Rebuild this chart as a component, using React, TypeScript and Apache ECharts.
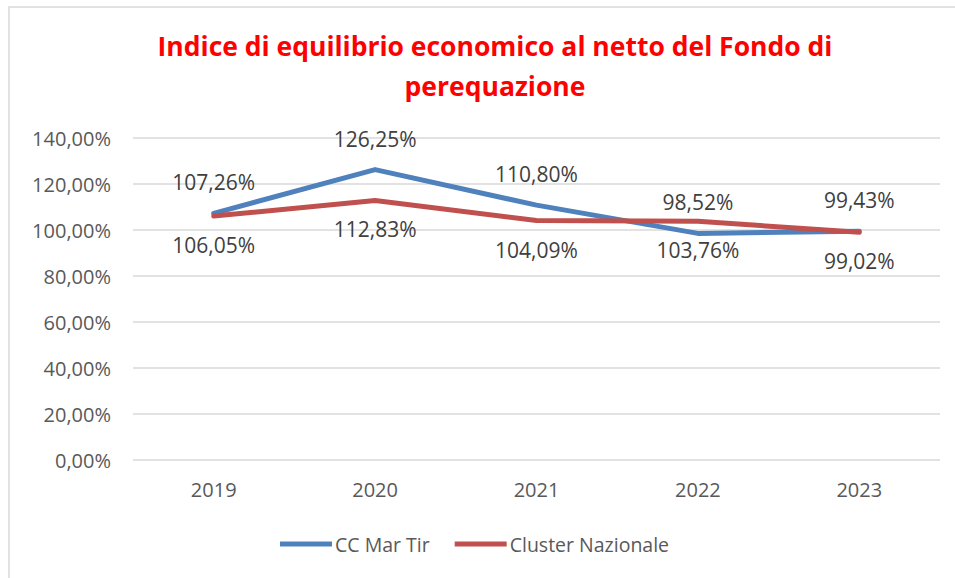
import React, { useEffect, useRef } from "react";
import * as echarts from "echarts";

const years = ["2019", "2020", "2021", "2022", "2023"];
const ccMarTir = [107.26, 126.25, 110.8, 98.52, 99.43];
const clusterNazionale = [106.05, 112.83, 104.09, 103.76, 99.02];
const seriesNames = ["CC Mar Tir", "Cluster Nazionale"];
const titleText = "Indice di equilibrio economico al netto del Fondo di\nperequazione";

const fmt = (v: number) => v.toFixed(2).replace(".", ",") + "%";
const FONT = "Open Sans";

export default function App() {
  const ref = useRef<HTMLDivElement>(null);
  useEffect(() => {
    if (!ref.current) return;
    const chart = echarts.init(ref.current, undefined, { renderer: "svg" });
    chart.setOption({
      animation: false,
      backgroundColor: "#ffffff",
      textStyle: { fontFamily: FONT },
      title: {
        text: titleText,
        left: 490,
        textAlign: "center",
        top: 21,
        textStyle: {
          color: "#FF0000",
          fontWeight: "bold",
          fontSize: 26.5,
          lineHeight: 40,
          fontFamily: FONT,
        },
      },
      graphic: [
        {
          type: "rect",
          shape: { x: 9, y: 7, width: 960, height: 600 },
          style: { fill: "none", stroke: "#D9D9D9", lineWidth: 1.5 },
          silent: true,
        },
      ],
      grid: { left: 133, right: 15, top: 138, bottom: 118 },
      legend: {
        data: seriesNames,
        top: 529,
        left: 275,
        icon: "rect",
        itemWidth: 52,
        itemHeight: 5,
        itemGap: 25,
        textStyle: { color: "#595959", fontSize: 19.5, fontFamily: FONT, padding: [0, 0, 0, -2] },
      },
      xAxis: {
        type: "category",
        data: years,
        boundaryGap: true,
        axisLine: { show: false },
        axisTick: { show: false },
        axisLabel: { color: "#595959", fontSize: 20, margin: 19, fontFamily: FONT },
      },
      yAxis: {
        type: "value",
        min: 0,
        max: 140,
        interval: 20,
        axisLine: { show: false },
        axisTick: { show: false },
        splitLine: { lineStyle: { color: "#D9D9D9", width: 1.5 } },
        axisLabel: {
          color: "#595959",
          fontSize: 20,
          margin: 22,
          fontFamily: FONT,
          formatter: (v: number) => fmt(v),
        },
      },
      series: [
        {
          name: seriesNames[0],
          type: "line",
          data: ccMarTir,
          symbol: "circle",
          symbolSize: 1,
          color: "#4F81BD",
          lineStyle: { color: "#4F81BD", width: 5, cap: "round", join: "round" },
          itemStyle: { color: "#4F81BD" },
          label: {
            show: true,
            position: "top",
            distance: 20,
            color: "#404040",
            fontSize: 21,
            fontFamily: FONT,
            formatter: (p: any) => fmt(p.value),
          },
          z: 3,
        },
        {
          name: seriesNames[1],
          type: "line",
          data: clusterNazionale,
          symbol: "circle",
          symbolSize: 1,
          color: "#C0504D",
          lineStyle: { color: "#C0504D", width: 5, cap: "round", join: "round" },
          itemStyle: { color: "#C0504D" },
          label: {
            show: true,
            position: "bottom",
            distance: 18,
            color: "#404040",
            fontSize: 21,
            fontFamily: FONT,
            formatter: (p: any) => fmt(p.value),
          },
          z: 4,
        },
      ],
    });
    return () => chart.dispose();
  }, []);
  return (
    <div
      ref={ref}
      style={{ position: "fixed", left: 0, top: 0, width: 955, height: 578, background: "#fff" }}
    />
  );
}
